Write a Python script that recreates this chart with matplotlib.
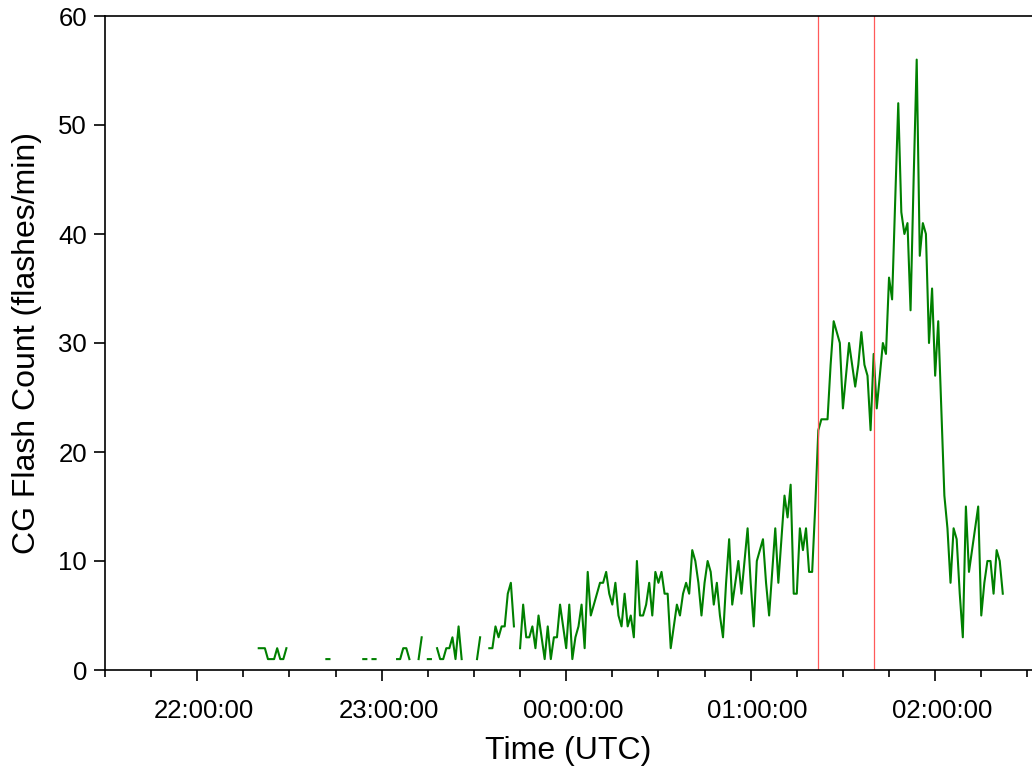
import numpy as np
import pandas as pd
import matplotlib
matplotlib.use("Agg")
import matplotlib.pyplot as plt
import matplotlib.dates as mdates
import matplotlib.transforms as mtransforms

plt.rcParams['font.family'] = ['Liberation Sans', 'DejaVu Sans']

nan = np.nan

# 1-minute CG flash counts starting 22:20 UTC (gaps = no flashes recorded)
start_time = "2000-01-01 22:20"
flash_count = [
    2, 2, 2, 1, 1, 1, 2, 1, 1, 2,                      # 22:20
    nan, nan, nan, nan, nan, nan, nan, nan, nan, nan,  # 22:30
    nan, nan, 1, 1, nan, nan, nan, nan, nan, nan,      # 22:40
    nan, nan, nan, nan, 1, 1, nan, 1, 1, nan,          # 22:50
    nan, nan, nan, nan, nan, 1, 1, 2, 2, 1,            # 23:00
    nan, nan, 1, 3, nan, 1, 1, nan, 2, 1,              # 23:10
    1, 2, 2, 3, 1, 4, 1, nan, nan, nan,                # 23:20
    nan, 1, 3, nan, nan, 2, 2, 4, 3, 4,                # 23:30
    4, 7, 8, 4, nan, 2, 6, 3, 3, 4,                    # 23:40
    2, 5, 3, 1, 4, 1, 3, 3, 6, 4,                      # 23:50
    2, 6, 1, 3, 4, 6, 2, 9, 5, 6,                      # 00:00
    7, 8, 8, 9, 7, 6, 8, 5, 4, 7,                      # 00:10
    4, 5, 3, 10, 5, 5, 6, 8, 5, 9,                     # 00:20
    8, 9, 7, 7, 2, 4, 6, 5, 7, 8,                      # 00:30
    7, 11, 10, 8, 5, 8, 10, 9, 6, 8,                   # 00:40
    5, 3, 8, 12, 6, 8, 10, 7, 10, 13,                  # 00:50
    8, 4, 10, 11, 12, 8, 5, 9, 13, 8,                  # 01:00
    12, 16, 14, 17, 7, 7, 13, 11, 13, 9,               # 01:10
    9, 15, 22, 23, 23, 23, 28, 32, 31, 30,             # 01:20
    24, 27, 30, 28, 26, 28, 31, 28, 27, 22,            # 01:30
    29, 24, 27, 30, 29, 36, 34, 43, 52, 42,            # 01:40
    40, 41, 33, 45, 56, 38, 41, 40, 30, 35,            # 01:50
    27, 32, 24, 16, 13, 8, 13, 12, 7, 3,               # 02:00
    15, 9, 11, 13, 15, 5, 8, 10, 10, 7,                # 02:10
    11, 10, 7,                                         # 02:20
]

red_marks = ["2000-01-02 01:22", "2000-01-02 01:40"]
x_start = "2000-01-01 21:30"
x_end = "2000-01-02 02:31:30"
y_ticks = [0, 10, 20, 30, 40, 50, 60]

times = pd.date_range(start_time, periods=len(flash_count), freq="1min")

fig = plt.figure(figsize=(10.32, 7.71), dpi=100)
ax = fig.add_axes([105 / 1032, 1 - 670 / 771, 1 - 105 / 1032, (670 - 16) / 771])

ax.plot(times, flash_count, color="#008000", lw=1.5)
for t in red_marks:
    ax.axvline(pd.Timestamp(t), color="#ff5a5a", lw=0.9)

ax.set_xlim(pd.Timestamp(x_start), pd.Timestamp(x_end))
ax.set_ylim(0, 60)
ax.set_yticks(y_ticks)

ax.xaxis.set_major_locator(mdates.HourLocator())
ax.xaxis.set_minor_locator(mdates.MinuteLocator(byminute=[15, 30, 45]))
ax.xaxis.set_major_formatter(mdates.DateFormatter("%H:%M:%S"))

ax.spines["right"].set_visible(False)
for s in ["left", "bottom", "top"]:
    ax.spines[s].set_linewidth(1.2)

ax.tick_params(axis="x", which="major", direction="out", length=8, width=1.2,
               labelsize=18.5, pad=13)
ax.tick_params(axis="x", which="minor", direction="out", length=5, width=1.2)
ax.tick_params(axis="y", which="major", direction="out", length=8, width=1.2,
               labelsize=18.5, pad=5)

# labels in the original sit a few pixels right of their ticks
shift = mtransforms.ScaledTranslation(0.07, 0, fig.dpi_scale_trans)
for lbl in ax.get_xticklabels():
    lbl.set_transform(lbl.get_transform() + shift)

ax.set_xlabel("Time (UTC)", fontsize=23, labelpad=9)
ax.set_ylabel("CG Flash Count (flashes/min)", fontsize=23, labelpad=12)

fig.savefig("out.png", dpi=100)
